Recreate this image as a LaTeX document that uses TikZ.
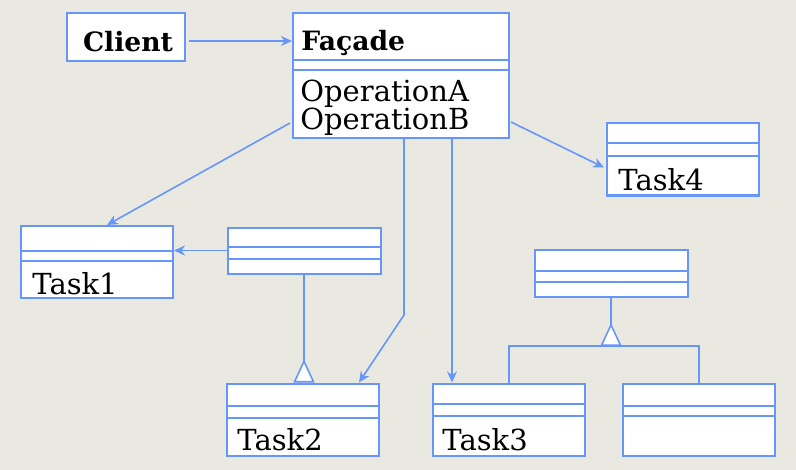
\documentclass[tikz,border=0pt]{standalone}
\usepackage{fontspec}
\setmainfont{DejaVu Serif}
\usepackage{tikz}
\usetikzlibrary{calc}
\usetikzlibrary{arrows.meta}
\usetikzlibrary{positioning}
\definecolor{umlblue}{RGB}{102, 150, 250}
\definecolor{paper}{RGB}{234, 233, 225}

\begin{document}
\begin{tikzpicture}[x=0.5pt, y=-0.5pt,
        classbox/.style={draw=umlblue, fill=white, line width=1pt, inner sep=0pt},
        taskbox/.style={classbox, minimum width=76pt, minimum height=36pt},
        minibox/.style={classbox, minimum width=76.5pt, minimum height=23pt},
        txt/.style={inner sep=0pt, anchor=base west, font=\fontsize{14.5}{17}\selectfont},
        bold/.style={font=\fontsize{13.3}{16}\selectfont\bfseries},
        link/.style={umlblue, line width=0.8pt},
        uses/.style={link, -{Stealth[length=5.5pt, width=5pt]}},
        isa/.style={link, -{Triangle[reversed, length=11.5pt, width=10.5pt, fill=white]}}]
            % Paper
            \fill[paper]                                      (0, 0) rectangle (796, 470);
            % Client & Facade
            \node[classbox, minimum width=59pt, minimum height=24pt]   (client)  at (126, 37.0) {};
            \node[classbox, minimum width=108pt, minimum height=62.5pt] (facade) at (401, 75.5) {};
            % Tasks
            \node[taskbox]                                    (task1)   at ( 97, 262.0) {};
            \node[taskbox]                                    (task2)   at (303, 419.5) {};
            \node[taskbox]                                    (task3)   at (509, 419.5) {};
            \node[taskbox]                                    (sub)     at (699, 419.5) {};
            \node[taskbox]                                    (task4)   at (683, 159.5) {};
            % Parents
            \node[minibox]                                    (helper)  at (304, 250.5) {};
            \node[minibox, minimum height=23.5pt]             (base)    at (611, 273.5) {};
            % Compartments
            \foreach \n/\a/\b in {facade/48/58, task1/26/36, task2/23/35, task3/21/33,
                                  sub/23/33, task4/21/34, helper/20/32, base/22/33}
                \draw[link, line width=1pt] ($(\n.north west)+(0,\a)$) -- ($(\n.north east)+(0,\a)$)
                                            ($(\n.north west)+(0,\b)$) -- ($(\n.north east)+(0,\b)$);
            % Names
            \node[txt, bold, anchor=base]                     (clientname) at (128, 52) {Client};
            \node[txt, bold]                                  (facadename) at ($(facade.north west)+(9, 39)$) {Façade};
            \node[txt]                                        (opA)   at ($(facade.north west)+(8, 90)$)  {OperationA};
            \node[txt]                                        (opB)   at ($(facade.north west)+(8, 118)$) {OperationB};
            \node[txt]                                        (name1) at ($(task1.south west)+(12, -5)$)  {Task1};
            \node[txt]                                        (name2) at ($(task2.south west)+(11, -6)$)  {Task2};
            \node[txt]                                        (name3) at ($(task3.south west)+(10, -6)$)  {Task3};
            \node[txt]                                        (name4) at ($(task4.south west)+(12, -6)$)  {Task4};
            % Associations
            \coordinate (callout) at ($(client.east)+(3, 4)$);
            \draw[uses] (callout) -- (callout -| facade.west);
            \draw[uses] ($(facade.south west)+(-2, -16)$) -- ($(task1.north)+(10, 0)$);
            \draw[uses] (helper.west) -- (helper.west -| task1.east);
            \coordinate (knee) at (404, 315);
            \draw[uses] (facade.south -| knee) -- (knee) -- ($(task2.north east)+(-21, 0)$);
            \coordinate (drop) at ($(task3.north west)+(20, 0)$);
            \draw[uses] (facade.south -| drop) -- (drop);
            \draw[uses] ($(facade.south east)+(1, -17)$) -- ($(task4.west)+(-2, 8)$);
            % Inheritance
            \draw[isa]  (helper.south) -- (helper.south |- task2.north);
            \coordinate (split) at ($(base.south)+(0, 48)$);
            \draw[isa]  (base.south) -- (split);
            \draw[link] (task3.north) -- (task3.north |- split) -- (sub.north |- split) -- (sub.north);
\end{tikzpicture}
\end{document}
